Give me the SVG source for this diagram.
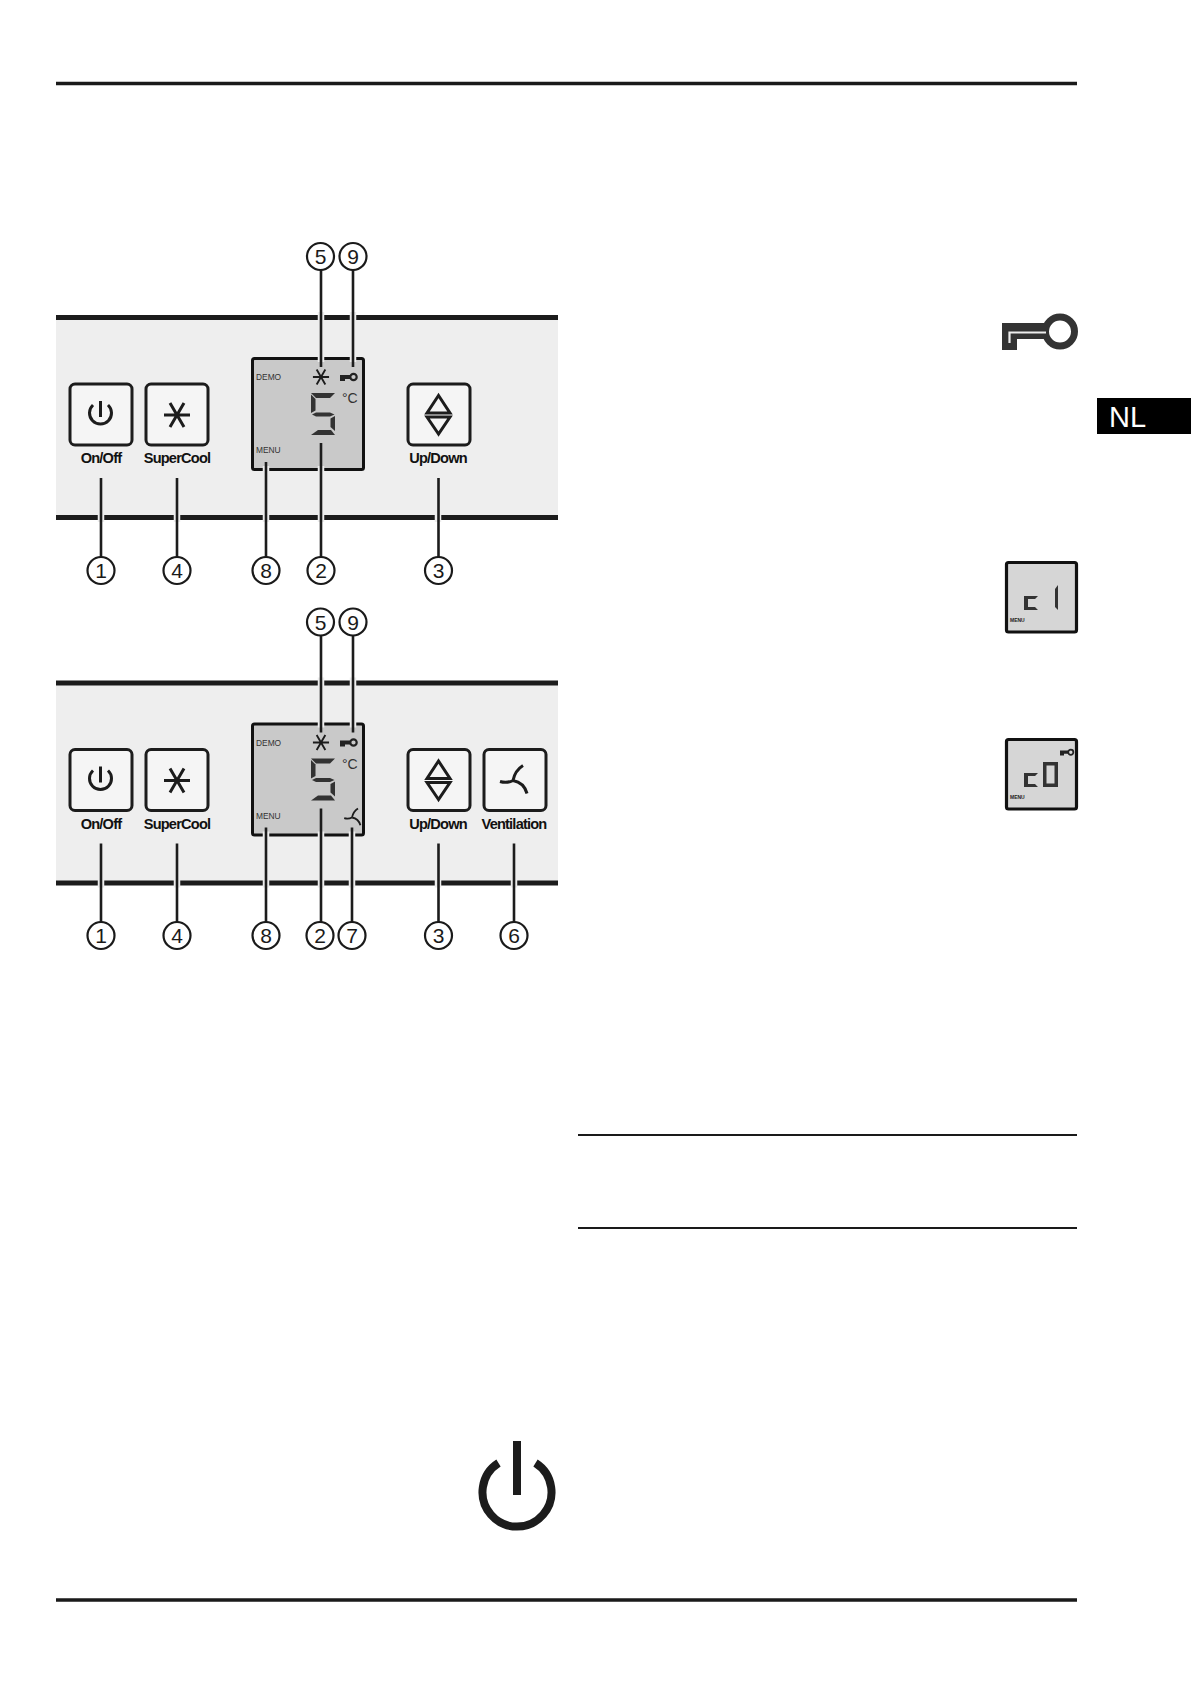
<svg xmlns="http://www.w3.org/2000/svg" width="1191" height="1684" viewBox="0 0 1191 1684">
<style>
text{font-family:"Liberation Sans",Arial,sans-serif}
.btn{fill:#f5f5f5;stroke:#1c1c1c;stroke-width:3}
.lcd{fill:#c9c9c9;stroke:#111;stroke-width:3}
.lcds{fill:#d6d6d6;stroke:#111;stroke-width:3.200}
.band{fill:#1c1c1c}
.panel{fill:#eeeeee}
.lab{font-weight:700;font-size:14.600px;letter-spacing:-.8px;text-anchor:middle;fill:#111}
.num{font-size:21px;text-anchor:middle;fill:#1a1a1a}
.ring{fill:#fff;stroke:#1a1a1a;stroke-width:2.200}
.ldr{fill:none;stroke:#1c1c1c;stroke-width:2.600}
.hal{fill:none;stroke:#eeeeee;stroke-width:6.500}
.tiny{font-size:8.400px;fill:#333}
.ico{fill:none;stroke:#1c1c1c;stroke-width:3}
.seg{fill:#333}
.rule{stroke:#1a1a1a;fill:none}
</style>
<defs>
<g id="star"><path d="M-13,0H13M-7,-12L7,12M7,-12L-7,12"/></g>
<g id="fan"><path d="M0,0Q2,-10 10,-15M0,0Q-6,3 -13,1M0,0Q11,2 14,13"/></g>
<g id="keyS"><path d="M0,2H10V6H5V8H0Z" stroke="none" fill="#222"/><circle cx="13.500" cy="4" r="3.200" fill="none" stroke="#222" stroke-width="2.200"/></g>
<g id="five" class="seg">
<polygon points="311,393 335,393 330,398 316,398"/><polygon points="311,394.500 315.500,399 315.500,410.500 311,413"/><polygon points="312,414.500 316,412.500 330,412.500 334.500,414.500 330,416.500 316,416.500"/><polygon points="335,416 335,431 330.500,427 330.500,418.500"/><polygon points="318,430 331,430 335,435 311,435"/>
</g>
</defs>
<rect width="1191" height="1684" fill="#fff"/>
<g id="page-rules">
<path class="rule" stroke-width="3.500" d="M56,83.500H1077M56,1600H1077"/>
<path class="rule" stroke-width="1.800" d="M578,1135H1077M578,1228H1077"/>
</g>

<g id="control-panel-1">
<rect class="panel" x="56" y="317" width="502" height="200"/>
<rect class="band" x="56" y="315" width="502" height="5"/>
<rect class="band" x="56" y="515" width="502" height="5"/>
<g id="p1-onoff"><rect class="btn" x="70" y="384" width="62" height="61" rx="5"/><path class="ico" d="M93,405A11,11 0 1 0 108,405M100.500,401V417"/><text class="lab" x="101" y="463">On/Off</text></g>
<g id="p1-supercool"><rect class="btn" x="146" y="384" width="62" height="61" rx="5"/><use href="#star" x="177" y="415" class="ico"/><text class="lab" x="177" y="463">SuperCool</text></g>
<g id="p1-display"><rect class="lcd" x="252.500" y="358.500" width="111" height="111" rx="2"/>
<text class="tiny" x="256" y="380">DEMO</text><text class="tiny" x="256" y="453">MENU</text>
<use href="#star" transform="translate(321,377) scale(.62)" class="ico" stroke-width="3.200"/><use href="#keyS" x="340" y="373"/>
<use href="#five"/><text x="342" y="403" font-size="14" fill="#333">°C</text></g>
<g id="p1-updown"><rect class="btn" x="408" y="384" width="62" height="61" rx="5"/><path class="ico" d="M438.500,395.500L427,413H450ZM438.500,434L427,417H450Z"/><text class="lab" x="438" y="463">Up/Down</text></g>
</g>

<g id="control-panel-2" transform="translate(0,365.500)">
<rect class="panel" x="56" y="317" width="502" height="200"/>
<rect class="band" x="56" y="315" width="502" height="5"/>
<rect class="band" x="56" y="515" width="502" height="5"/>
<g id="p2-onoff"><rect class="btn" x="70" y="384" width="62" height="61" rx="5"/><path class="ico" d="M93,405A11,11 0 1 0 108,405M100.500,401V417"/><text class="lab" x="101" y="463">On/Off</text></g>
<g id="p2-supercool"><rect class="btn" x="146" y="384" width="62" height="61" rx="5"/><use href="#star" x="177" y="415" class="ico"/><text class="lab" x="177" y="463">SuperCool</text></g>
<g id="p2-display"><rect class="lcd" x="252.500" y="358.500" width="111" height="111" rx="2"/>
<text class="tiny" x="256" y="380">DEMO</text><text class="tiny" x="256" y="453">MENU</text>
<use href="#star" transform="translate(321,377) scale(.62)" class="ico" stroke-width="3.200"/><use href="#keyS" x="340" y="373"/>
<use href="#five"/><text x="342" y="403" font-size="14" fill="#333">°C</text>
<use href="#fan" transform="translate(352,452) scale(.6)" class="ico" stroke-width="4.200"/></g>
<g id="p2-updown"><rect class="btn" x="408" y="384" width="62" height="61" rx="5"/><path class="ico" d="M438.500,395.500L427,413H450ZM438.500,434L427,417H450Z"/><text class="lab" x="438" y="463">Up/Down</text></g>
<g id="p2-ventilation"><rect class="btn" x="484" y="384" width="62" height="61" rx="5"/><use href="#fan" x="513" y="415" class="ico" stroke-width="3.600"/><text class="lab" x="514" y="463">Ventilation</text></g>
</g>

<g id="connectors">
<g><path class="hal" d="M321,312V322M353,312V322M321,355V362M353,355V362M101,511V522M177,511V522M266,511V522M321,511V522M438,511V522M266,466V474M321,466V474"/>
<path class="ldr" d="M321,270V367M353,270V367M321,443V558M266,462V558M101,478V558M177,478V558M438.500,478V558"/></g>
<g transform="translate(0,365.500)"><path class="hal" d="M321,312V322M353,312V322M321,355V362M353,355V362M101,511V522M177,511V522M266,511V522M321,511V522M352,511V522M438,511V522M514,511V522M266,466V474M321,466V474M352,466V474"/>
<path class="ldr" d="M321,270V367M353,270V367M321,443V558M266,462V558M352,462V558M101,478V558M177,478V558M438.500,478V558M514,478V558"/></g>
</g>

<g id="callouts-1">
<g id="c1-5"><circle class="ring" cx="320.500" cy="256.500" r="13.500"/><text class="num" x="320.500" y="264">5</text></g>
<g id="c1-9"><circle class="ring" cx="353" cy="256.500" r="13.500"/><text class="num" x="353" y="264">9</text></g>
<g id="c1-1"><circle class="ring" cx="101" cy="570.500" r="13.500"/><text class="num" x="101" y="578">1</text></g>
<g id="c1-4"><circle class="ring" cx="177" cy="570.500" r="13.500"/><text class="num" x="177" y="578">4</text></g>
<g id="c1-8"><circle class="ring" cx="266" cy="570.500" r="13.500"/><text class="num" x="266" y="578">8</text></g>
<g id="c1-2"><circle class="ring" cx="321" cy="570.500" r="13.500"/><text class="num" x="321" y="578">2</text></g>
<g id="c1-3"><circle class="ring" cx="438.500" cy="570.500" r="13.500"/><text class="num" x="438.500" y="578">3</text></g>
</g>
<g id="callouts-2" transform="translate(0,365.500)">
<g id="c2-5"><circle class="ring" cx="320.500" cy="256.500" r="13.500"/><text class="num" x="320.500" y="264">5</text></g>
<g id="c2-9"><circle class="ring" cx="353" cy="256.500" r="13.500"/><text class="num" x="353" y="264">9</text></g>
<g id="c2-1"><circle class="ring" cx="101" cy="570" r="13.500"/><text class="num" x="101" y="577.500">1</text></g>
<g id="c2-4"><circle class="ring" cx="177" cy="570" r="13.500"/><text class="num" x="177" y="577.500">4</text></g>
<g id="c2-8"><circle class="ring" cx="266" cy="570" r="13.500"/><text class="num" x="266" y="577.500">8</text></g>
<g id="c2-2"><circle class="ring" cx="320" cy="570" r="13.500"/><text class="num" x="320" y="577.500">2</text></g>
<g id="c2-7"><circle class="ring" cx="352" cy="570" r="13.500"/><text class="num" x="352" y="577.500">7</text></g>
<g id="c2-3"><circle class="ring" cx="438.500" cy="570" r="13.500"/><text class="num" x="438.500" y="577.500">3</text></g>
<g id="c2-6"><circle class="ring" cx="514" cy="570" r="13.500"/><text class="num" x="514" y="577.500">6</text></g>
</g>

<g id="key-icon">
<circle cx="1060" cy="331.500" r="14.500" fill="none" stroke="#333" stroke-width="7"/>
<path fill="#333" d="M1002,323H1048V339H1017V350H1002Z"/>
<path fill="none" stroke="#eee" stroke-width="2.200" d="M1046,332.500H1009.500V343"/>
</g>
<g id="lang-tab"><rect x="1097" y="398" width="94" height="36" fill="#000"/><text x="1109" y="427" font-size="29" fill="#fff">NL</text></g>
<g id="display-c1"><rect class="lcds" x="1006.500" y="562.500" width="70" height="69.500" rx="2"/>
<path class="seg" d="M1024,596H1038L1035,599H1028V607H1035L1038,610H1024Z"/>
<path class="seg" d="M1058,585V610L1055,607V589Z"/>
<text x="1010" y="622" font-size="5" font-weight="700" fill="#222">MENU</text></g>
<g id="display-c0"><rect class="lcds" x="1006.500" y="739.500" width="70" height="69.500" rx="2"/>
<path class="seg" d="M1024,773H1038L1035,776H1028V784H1035L1038,787H1024Z"/>
<path class="seg" fill-rule="evenodd" d="M1043,762H1058V787H1043ZM1046.500,765.500V783.500H1054.500V765.500Z"/>
<use href="#keyS" transform="translate(1060,749) scale(.8)"/>
<text x="1010" y="799" font-size="5" font-weight="700" fill="#222">MENU</text></g>
<g id="power-icon"><path fill="none" stroke="#1c1c1c" stroke-width="8" d="M498.500,1463A34.500,34.500 0 1 0 535.500,1463M517,1441V1495"/></g>
</svg>
